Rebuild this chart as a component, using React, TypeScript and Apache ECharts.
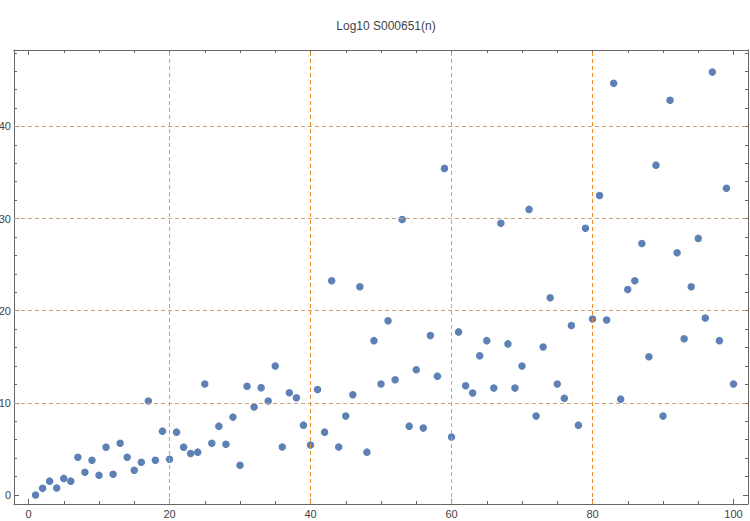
import React, { useEffect, useRef } from "react";
import * as echarts from "echarts";

const titleText = "Log10 S000651(n)";
const nValues = Array.from({ length: 100 }, (_, i) => i + 1);
const logValues = [
  0.0, 0.72, 1.5, 0.75, 1.8, 1.5, 4.1, 2.47, 3.77, 2.15,
  5.19, 2.25, 5.62, 4.1, 2.69, 3.56, 10.2, 3.77, 6.93, 3.88,
  6.82, 5.19, 4.5, 4.65, 12.05, 5.62, 7.47, 5.5, 8.45, 3.23,
  11.8, 9.54, 11.65, 10.2, 14.0, 5.2, 11.1, 10.55, 7.58, 5.42,
  11.45, 6.82, 23.25, 5.2, 8.56, 10.87, 22.6, 4.65, 16.75, 12.05,
  18.9, 12.5, 29.9, 7.47, 13.6, 7.26, 17.3, 12.9, 35.45, 6.28,
  17.7, 11.85, 11.07, 15.1, 16.75, 11.6, 29.5, 16.4, 11.6, 14.0,
  31.0, 8.56, 16.07, 21.4, 12.05, 10.5, 18.4, 7.58, 28.95, 19.1,
  32.5, 19.0, 44.7, 10.4, 22.3, 23.25, 27.3, 15.0, 35.8, 8.56,
  42.85, 26.3, 16.95, 22.6, 27.85, 19.2, 45.9, 16.75, 33.3, 12.05,
];
const xMajor = [0, 20, 40, 60, 80, 100];
const xMinor = [5, 10, 15, 25, 30, 35, 45, 50, 55, 65, 70, 75, 85, 90, 95];
const yMajor = [0, 10, 20, 30, 40];
const yMinor = [2, 4, 6, 8, 12, 14, 16, 18, 22, 24, 26, 28, 32, 34, 36, 38, 42, 44, 46, 48];
const xGridStrong = [40, 80];
const xGridSoft = [20, 60];
const yGridSoft = [10, 20, 30, 40];

const X_MIN = -2.057;
const X_MAX = 102.056;
const Y_MIN = -0.98;
const Y_MAX = 48.3;

const AXIS_COLOR = "#666666";
const LABEL_COLOR = "#444444";
const FONT = "Liberation Sans, Arial, sans-serif";
const GRID_COLOR = "#f08a1c";
const SOFT_COLOR = "#c9a27a";

function makeXAxis(position: "bottom" | "top", values: number[], len: number, labels: boolean, line: boolean) {
  return {
    type: "value",
    position,
    min: X_MIN,
    max: X_MAX,
    axisLine: { show: line, onZero: false, lineStyle: { color: AXIS_COLOR, width: 1 } },
    axisTick: { show: true, inside: true, length: len, customValues: values, lineStyle: { color: AXIS_COLOR, width: 1 } },
    axisLabel: labels
      ? { show: true, customValues: values, color: LABEL_COLOR, fontSize: 11, fontFamily: FONT, margin: 4 }
      : { show: false },
    splitLine: { show: false },
  };
}

function makeYAxis(position: "left" | "right", values: number[], len: number, labels: boolean, line: boolean) {
  return {
    type: "value",
    position,
    min: Y_MIN,
    max: Y_MAX,
    axisLine: { show: line, onZero: false, lineStyle: { color: AXIS_COLOR, width: 1 } },
    axisTick: { show: true, inside: true, length: len, customValues: values, lineStyle: { color: AXIS_COLOR, width: 1 } },
    axisLabel: labels
      ? { show: true, customValues: values, color: LABEL_COLOR, fontSize: 11, fontFamily: FONT, margin: 3 }
      : { show: false },
    splitLine: { show: false },
  };
}

export default function App() {
  const ref = useRef<HTMLDivElement>(null);
  useEffect(() => {
    if (!ref.current) return;
    const chart = echarts.init(ref.current, undefined, { renderer: "svg" });
    const points = nValues.map((n, i) => [n, logValues[i]]);
    const soft = { color: SOFT_COLOR, width: 1, opacity: 1, type: [4, 3] };
    const strong = { color: GRID_COLOR, width: 1, opacity: 1, type: [4, 3] };
    chart.setOption({
      animation: false,
      backgroundColor: "#ffffff",
      title: {
        text: titleText,
        left: 381,
        textAlign: "center",
        top: 15,
        textStyle: { color: "#444444", fontSize: 12, fontWeight: "normal", fontFamily: FONT },
      },
      grid: { left: 14, right: 2, top: 50, bottom: 17, containLabel: false, outerBoundsMode: "none" },
      xAxis: [
        makeXAxis("bottom", xMajor, 5, true, true),
        makeXAxis("top", xMajor, 5, false, true),
        makeXAxis("bottom", xMinor, 3, false, false),
        makeXAxis("top", xMinor, 3, false, false),
      ],
      yAxis: [
        makeYAxis("left", yMajor, 5, true, true),
        makeYAxis("right", yMajor, 5, false, true),
        makeYAxis("left", yMinor, 3, false, false),
        makeYAxis("right", yMinor, 3, false, false),
      ],
      series: [
        {
          type: "scatter",
          xAxisIndex: 0,
          yAxisIndex: 0,
          data: [],
          z: 1,
          silent: true,
          markLine: {
            silent: true,
            symbol: "none",
            label: { show: false },
            lineStyle: strong,
            data: [
              ...xGridSoft.map((v) => ({ xAxis: v, lineStyle: soft })),
              ...xGridStrong.map((v) => ({ xAxis: v, lineStyle: strong })),
              ...yGridSoft.map((v) => ({ yAxis: v, lineStyle: soft })),
            ],
          },
        },
        {
          type: "scatter",
          xAxisIndex: 0,
          yAxisIndex: 0,
          z: 3,
          symbol: "circle",
          symbolSize: 7.5,
          itemStyle: { color: "#5e81b5", opacity: 1 },
          data: points,
        },
      ],
    });
    return () => chart.dispose();
  }, []);
  return <div ref={ref} style={{ width: 750, height: 521, position: "absolute", left: 0, top: 0 }} />;
}
